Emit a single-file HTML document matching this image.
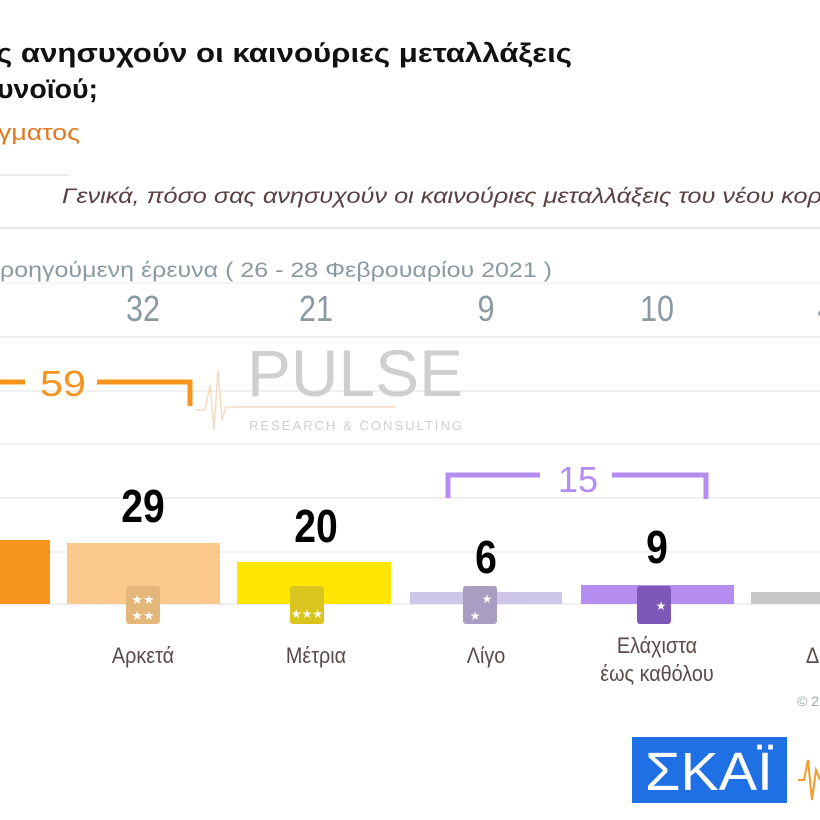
<!DOCTYPE html>
<html><head><meta charset="utf-8"><style>
html,body{margin:0;padding:0;background:#fff;}
svg{display:block;}
text{font-family:"Liberation Sans",sans-serif;}
</style></head><body>
<svg width="820" height="820" viewBox="0 0 820 820" xmlns="http://www.w3.org/2000/svg">
<rect width="820" height="820" fill="#fff"/>
<!-- titles -->
<text x="-4" y="62" font-size="27" font-weight="bold" fill="#111" textLength="576" lengthAdjust="spacingAndGlyphs">ς ανησυχούν οι καινούριες μεταλλάξεις</text>
<text x="-3" y="98" font-size="27" font-weight="bold" fill="#111" textLength="101" lengthAdjust="spacingAndGlyphs">υνοϊού;</text>
<text x="-2" y="140" font-size="22" fill="#e07a22" textLength="82" lengthAdjust="spacingAndGlyphs">γματος</text>
<line x1="0" y1="175" x2="70" y2="175" stroke="#e6e6e6" stroke-width="1.5"/>
<text x="62" y="203" font-size="21" font-style="italic" fill="#5a4040" textLength="760" lengthAdjust="spacingAndGlyphs">Γενικά, πόσο σας ανησυχούν οι καινούριες μεταλλάξεις του νέου κορ</text>
<line x1="0" y1="228" x2="820" y2="228" stroke="#e8e8e8" stroke-width="2"/>
<text x="0" y="277" font-size="21" fill="#8a9aa3" textLength="552" lengthAdjust="spacingAndGlyphs">ροηγούμενη έρευνα  ( 26 - 28  Φεβρουαρίου  2021 )</text>
<line x1="0" y1="283" x2="820" y2="283" stroke="#eee" stroke-width="1"/>
<!-- previous numbers -->
<g font-size="36" fill="#8a9aa3" text-anchor="middle">
<text x="143" y="321" transform="translate(21.5,0) scale(0.85,1)">32</text>
<text x="316" y="321" transform="translate(47.4,0) scale(0.85,1)">21</text>
<text x="486" y="321" transform="translate(72.9,0) scale(0.85,1)">9</text>
<text x="657" y="321" transform="translate(98.6,0) scale(0.85,1)">10</text>
<text x="826" y="321" transform="translate(123.9,0) scale(0.85,1)">4</text>
</g>
<!-- gridlines -->
<g stroke="#ececec" stroke-width="1.5">
<line x1="0" y1="337" x2="820" y2="337"/><line x1="0" y1="391" x2="820" y2="391"/><line x1="0" y1="444" x2="820" y2="444"/><line x1="0" y1="498" x2="820" y2="498"/><line x1="0" y1="552" x2="820" y2="552"/><line x1="0" y1="604" x2="820" y2="604"/>
</g>
<!-- PULSE watermark -->
<text x="247" y="396" font-size="66" fill="#cfcfcf" textLength="216" lengthAdjust="spacingAndGlyphs">PULSE</text>
<line x1="238" y1="407" x2="395" y2="407" stroke="#f3dcc0" stroke-width="1.5"/>
<polyline points="195,410 205,410 210,385 214,430 218,370 222,420 226,407 238,407" fill="none" stroke="#f3dcc0" stroke-width="1.5"/>
<text x="249" y="430" font-size="13" fill="#cfcfcf" textLength="213">RESEARCH &amp; CONSULTING</text>
<!-- 59 bracket -->
<g stroke="#f7941d" stroke-width="5" fill="none">
<line x1="0" y1="382" x2="25" y2="382"/>
<polyline points="97,382 190,382 190,406"/>
</g>
<text x="40" y="396" font-size="36" fill="#f7941d" textLength="46" lengthAdjust="spacingAndGlyphs">59</text>
<!-- 15 bracket -->
<g stroke="#b58cf0" stroke-width="5" fill="none">
<polyline points="448,498 448,475 540,475"/>
<polyline points="612,475 706,475 706,499"/>
</g>
<text x="578" y="492" font-size="36" fill="#b58cf0" text-anchor="middle">15</text>
<!-- bars -->
<rect x="0" y="540" width="50" height="64" fill="#f7941d"/>
<rect x="67" y="543" width="153" height="61" fill="#fbc98c"/>
<rect x="237" y="562" width="154" height="42" fill="#ffe600"/>
<rect x="410" y="592" width="152" height="12" fill="#cfc7e8"/>
<rect x="581" y="585" width="153" height="19" fill="#b58cf0"/>
<rect x="751" y="592" width="80" height="12" fill="#c8c8c8"/>
<!-- icons -->
<rect x="126" y="586" width="34" height="38" rx="3" fill="#e3b77a"/>
<text x="143" y="604" font-size="13" fill="#fff" text-anchor="middle">★★</text>
<text x="143" y="620" font-size="13" fill="#fff" text-anchor="middle">★★</text>
<rect x="290" y="586" width="34" height="38" rx="3" fill="#d9c51d"/>
<text x="307" y="618" font-size="12" fill="#fff" text-anchor="middle">★★★</text>
<rect x="463" y="586" width="34" height="38" rx="3" fill="#a99dc4"/>
<text x="487" y="603" font-size="12" fill="#fff" text-anchor="middle">★</text>
<text x="475" y="620" font-size="12" fill="#fff" text-anchor="middle">★</text>
<rect x="637" y="586" width="34" height="38" rx="3" fill="#7d58b8"/>
<text x="661" y="610" font-size="12" fill="#fff" text-anchor="middle">★</text>
<!-- values -->
<g font-size="46" font-weight="bold" fill="#000" text-anchor="middle">
<text x="143" y="522" transform="translate(21.5,0) scale(0.85,1)">29</text>
<text x="316" y="542" transform="translate(47.4,0) scale(0.85,1)">20</text>
<text x="486" y="573" transform="translate(72.9,0) scale(0.85,1)">6</text>
<text x="657" y="563" transform="translate(98.6,0) scale(0.85,1)">9</text>
<text x="835" y="573" transform="translate(125.3,0) scale(0.85,1)">6</text>
</g>
<!-- labels -->
<g font-size="22" fill="#5a4a4a" text-anchor="middle">
<text x="143" y="663" transform="translate(14.3,0) scale(0.9,1)">Αρκετά</text>
<text x="316" y="663" transform="translate(31.6,0) scale(0.9,1)">Μέτρια</text>
<text x="486" y="663" transform="translate(48.6,0) scale(0.9,1)">Λίγο</text>
<text x="657" y="653" transform="translate(65.7,0) scale(0.9,1)">Ελάχιστα</text>
<text x="657" y="681" transform="translate(65.7,0) scale(0.9,1)">έως καθόλου</text>
<text x="818" y="663" transform="translate(81.8,0) scale(0.9,1)">ΔΓ</text>
</g>
<text x="797" y="706" font-size="14" fill="#9aa">© 2</text>
<!-- SKAI logo -->
<rect x="632" y="737" width="155" height="66" fill="#1f6fe5"/>
<text x="709" y="790" font-size="54" fill="#fff" text-anchor="middle" textLength="128" lengthAdjust="spacingAndGlyphs">ΣΚΑΪ</text>
<polyline points="798,780 804,780 808,760 812,800 816,770 820,780" fill="none" stroke="#f39a2a" stroke-width="2"/>
</svg>
</body></html>
